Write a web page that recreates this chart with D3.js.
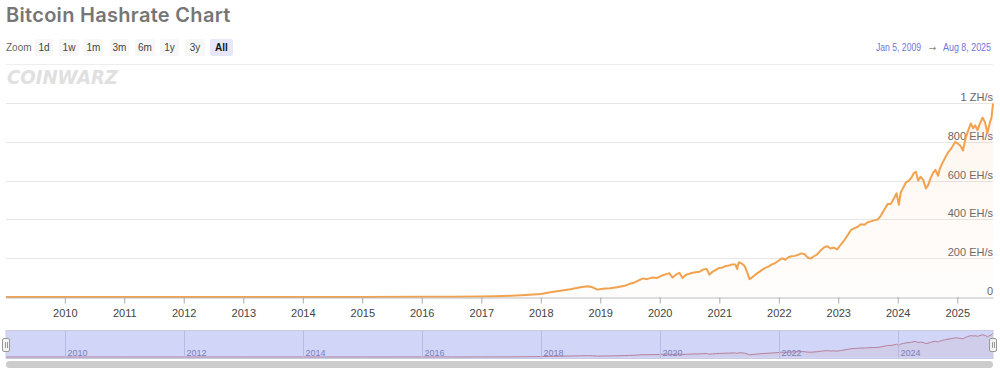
<!DOCTYPE html>
<html>
<head>
<meta charset="utf-8">
<script src="https://cdn.jsdelivr.net/npm/d3@7"></script>
<style>
  body { margin: 0; background: #fff; }
  svg { display: block; font-family: "Liberation Sans", Arial, sans-serif; }
</style>
</head>
<body>
<div id="chart"></div>
<script>
// hashrate samples (EH/s)
const dates = [
  "2009-01-05","2010-01-01","2011-01-01","2012-01-01","2013-01-01","2014-01-01","2015-01-01","2016-01-01","2016-07-01",
  "2017-01-01","2017-04-01","2017-07-01","2017-10-01","2018-01-01","2018-03-01","2018-05-01","2018-07-01","2018-09-01",
  "2018-10-15","2018-11-15","2018-12-15","2019-01-15","2019-03-01","2019-04-15","2019-06-01","2019-07-01","2019-08-01",
  "2019-09-01","2019-09-20","2019-10-15","2019-11-15","2019-12-15","2020-01-01","2020-01-20","2020-02-10","2020-03-01",
  "2020-03-20","2020-04-10","2020-05-01","2020-05-20","2020-06-10","2020-07-01","2020-07-20","2020-08-10","2020-09-01",
  "2020-09-20","2020-10-15","2020-11-01","2020-11-20","2020-12-10","2021-01-01","2021-01-20","2021-02-10","2021-03-01",
  "2021-03-20","2021-04-10","2021-04-20","2021-05-01","2021-05-20","2021-06-05","2021-06-20","2021-07-05","2021-07-20",
  "2021-08-10","2021-09-01","2021-09-20","2021-10-10","2021-11-01","2021-11-20","2021-12-10","2022-01-01","2022-01-20",
  "2022-02-10","2022-03-01","2022-03-20","2022-04-10","2022-05-01","2022-05-20","2022-06-10","2022-06-25","2022-07-15",
  "2022-08-05","2022-08-25","2022-09-15","2022-10-05","2022-10-25","2022-11-15","2022-12-05","2022-12-25","2023-01-15",
  "2023-02-05","2023-03-01","2023-03-20","2023-04-10","2023-05-01","2023-05-20","2023-06-10","2023-07-01","2023-07-20",
  "2023-08-10","2023-09-01","2023-09-20","2023-10-10","2023-11-01","2023-11-20","2023-12-10","2023-12-25","2024-01-08",
  "2024-01-20","2024-02-05","2024-02-20","2024-03-10","2024-03-25","2024-04-10","2024-04-22","2024-05-05","2024-05-20",
  "2024-06-05","2024-06-22","2024-07-05","2024-07-20","2024-08-05","2024-08-20","2024-09-05","2024-09-15","2024-10-01",
  "2024-10-20","2024-11-05","2024-11-20","2024-12-05","2024-12-20","2025-01-05","2025-01-20","2025-02-05","2025-02-18",
  "2025-03-05","2025-03-25","2025-04-08","2025-04-20","2025-05-05","2025-05-20","2025-06-05","2025-06-20","2025-07-05",
  "2025-07-20","2025-07-30","2025-08-08"
];
const hashrate = [
  0,0,0,0,0,0.01,0.3,0.8,1.5,
  2.6,3.5,6,10,15,25,32,40,50,
  55,50,38,42,45,50,58,68,75,
  88,96,92,100,98,105,112,118,122,
  100,115,125,98,115,120,125,128,130,
  140,145,115,130,140,150,152,160,162,
  168,168,145,179,172,160,130,92,100,
  115,128,140,150,158,168,175,188,200,
  192,205,210,212,218,225,220,205,198,
  210,220,240,255,262,250,255,245,268,
  290,320,345,355,362,375,372,385,390,
  395,400,420,450,480,480,510,535,475,
  540,565,590,600,615,640,645,600,620,
  605,560,575,610,640,655,625,660,690,
  720,745,760,780,800,790,780,755,810,
  850,895,870,885,860,895,925,900,845,
  900,925,998
];
const yTicks = [0, 200, 400, 600, 800, 1000];
const zoomButtons = ["1d", "1w", "1m", "3m", "6m", "1y", "3y", "All"];
const navYears = [2010, 2012, 2014, 2016, 2018, 2020, 2022, 2024];

const width = 1000, height = 378;
const parse = d3.timeParse("%Y-%m-%d");
const data = dates.map((d, i) => ({ date: parse(d), value: hashrate[i] }));

const svg = d3.select("#chart").append("svg")
  .attr("width", width).attr("height", height);

// title
svg.append("text").attr("x", 6).attr("y", 22)
  .text("Bitcoin Hashrate Chart")
  .style("font-family", "Inter, 'Noto Sans', sans-serif")
  .style("font-size", "20px").style("font-weight", "600")
  .style("letter-spacing", "0.3px").style("fill", "#767676");

// zoom buttons
svg.append("text").attr("x", 6).attr("y", 51).text("Zoom")
  .style("font-size", "10px").style("fill", "#666");
const btnX = [35, 59, 84, 110, 135, 160, 185, 210];
const btnW = [18, 20, 19, 19, 20, 19, 20, 23];
zoomButtons.forEach((b, i) => {
  const sel = b === "All";
  svg.append("rect").attr("x", btnX[i]).attr("y", 39).attr("width", btnW[i]).attr("height", 17)
    .attr("rx", 2).attr("fill", sel ? "#e6e8fa" : "#f7f7f7");
  svg.append("text").attr("x", btnX[i] + btnW[i] / 2).attr("y", 51)
    .attr("text-anchor", "middle").text(b)
    .style("font-size", "10px").style("font-weight", sel ? "bold" : "normal")
    .style("fill", sel ? "#111" : "#444");
});

// date range
svg.append("text").attr("x", 876).attr("y", 51)
  .text("Jan 5, 2009").attr("textLength", 45).attr("lengthAdjust", "spacingAndGlyphs")
  .style("font-size", "10px").style("fill", "#7074dc");
svg.append("text").attr("x", 932.5).attr("y", 51).attr("text-anchor", "middle")
  .text("\u2192").style("font-family", "'DejaVu Sans', sans-serif")
  .style("font-size", "9px").style("fill", "#888");
svg.append("text").attr("x", 943).attr("y", 51)
  .text("Aug 8, 2025").attr("textLength", 48).attr("lengthAdjust", "spacingAndGlyphs")
  .style("font-size", "10px").style("fill", "#7074dc");

// separator
svg.append("line").attr("x1", 6).attr("x2", 993).attr("y1", 64.5).attr("y2", 64.5)
  .attr("stroke", "#eeeeee");

// watermark
svg.append("text").attr("x", 7).attr("y", 84).text("COINWARZ")
  .attr("textLength", 111).attr("lengthAdjust", "spacingAndGlyphs")
  .style("font-family", "'DejaVu Sans', sans-serif")
  .style("font-size", "20px").style("font-weight", "bold").style("font-style", "italic")
  .style("fill", "#e0e0e0");

// scales
const x = d3.scaleTime()
  .domain([new Date(2009, 0, 5), new Date(2025, 7, 8)])
  .range([6, 993]);
const y = d3.scaleLinear().domain([0, 1000]).range([297, 103]);

// gridlines and y labels
yTicks.forEach(v => {
  if (v > 0) {
    svg.append("line").attr("x1", 6).attr("x2", 993)
      .attr("y1", Math.round(y(v)) + 0.5).attr("y2", Math.round(y(v)) + 0.5)
      .attr("stroke", "#e6e6e6");
  }
  svg.append("text").attr("x", 993).attr("y", y(v) - 2).attr("text-anchor", "end")
    .text(v === 0 ? "0" : v === 1000 ? "1 ZH/s" : v + " EH/s")
    .style("font-size", "11px").style("fill", "#666");
});

// area + line
const grad = svg.append("defs").append("linearGradient")
  .attr("id", "areaGrad").attr("x1", 0).attr("y1", 0).attr("x2", 0).attr("y2", 1);
grad.append("stop").attr("offset", "0%").attr("stop-color", "#f7a35c").attr("stop-opacity", 0.1);
grad.append("stop").attr("offset", "100%").attr("stop-color", "#f7a35c").attr("stop-opacity", 0.02);

svg.append("path").datum(data)
  .attr("fill", "url(#areaGrad)")
  .attr("d", d3.area().x(d => x(d.date)).y0(y(0)).y1(d => y(d.value)));

svg.append("path").datum(data)
  .attr("fill", "none").attr("stroke", "#f2a24e").attr("stroke-width", 2)
  .attr("stroke-linejoin", "round")
  .attr("d", d3.line().x(d => x(d.date)).y(d => y(d.value)));

// x axis
const xAxis = svg.append("g").attr("transform", "translate(0,297.5)")
  .call(d3.axisBottom(x).ticks(d3.timeYear.every(1)).tickFormat(d3.timeFormat("%Y"))
    .tickSize(6).tickPadding(6).tickSizeOuter(0));
xAxis.select(".domain").attr("stroke", "#bbbbbb");
xAxis.selectAll(".tick line").attr("stroke", "#aaaaaa");
xAxis.selectAll(".tick text").style("font-size", "11px").style("fill", "#444")
  .style("font-family", "'Liberation Sans', Arial, sans-serif");

// navigator
const navY = d3.scaleLinear().domain([0, 1000]).range([357, 333]);
svg.append("rect").attr("x", 6).attr("y", 330.5).attr("width", 987).attr("height", 28)
  .attr("fill", "#ffffff");
svg.append("path").datum(data)
  .attr("fill", "#f7a35c").attr("fill-opacity", 0.12)
  .attr("d", d3.area().x(d => x(d.date)).y0(navY(0)).y1(d => navY(d.value)));
svg.append("path").datum(data)
  .attr("fill", "none").attr("stroke", "#d9867a").attr("stroke-width", 1)
  .attr("d", d3.line().x(d => x(d.date)).y(d => navY(d.value)));
svg.append("rect").attr("x", 6).attr("y", 330.5).attr("width", 987).attr("height", 28)
  .attr("fill", "#6675e8").attr("fill-opacity", 0.3)
  .attr("stroke", "#c8cbe0");
navYears.forEach(yr => {
  const px = Math.round(x(new Date(yr, 0, 1))) + 0.5;
  svg.append("line").attr("x1", px).attr("x2", px).attr("y1", 331).attr("y2", 358)
    .attr("stroke", "#b5bbe4");
  svg.append("text").attr("x", px + 2).attr("y", 356).text(yr)
    .style("font-size", "9px").style("fill", "#7a80b8");
});
// handles
[6, 993].forEach(hx => {
  svg.append("rect").attr("x", hx - 3.5).attr("y", 338.5).attr("width", 7).attr("height", 13)
    .attr("rx", 1.5).attr("fill", "#f2f2f2").attr("stroke", "#999");
  svg.append("line").attr("x1", hx - 0.5).attr("x2", hx - 0.5).attr("y1", 342).attr("y2", 348)
    .attr("stroke", "#999");
  svg.append("line").attr("x1", hx + 1.5).attr("x2", hx + 1.5).attr("y1", 342).attr("y2", 348)
    .attr("stroke", "#999");
});

// scrollbar
svg.append("rect").attr("x", 6).attr("y", 361).attr("width", 987).attr("height", 7)
  .attr("rx", 3.5).attr("fill", "#cccccc");
</script>
</body>
</html>
